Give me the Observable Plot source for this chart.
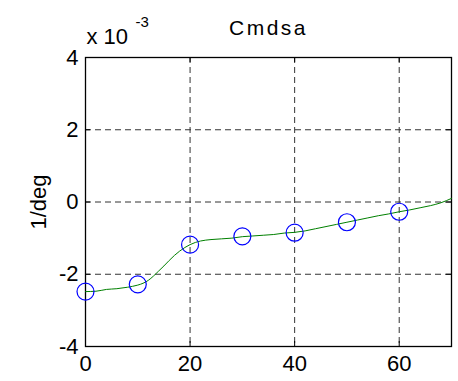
<!DOCTYPE html>
<html>
<head>
<meta charset="utf-8">
<script src="https://cdn.jsdelivr.net/npm/d3@7"></script>
<script src="https://cdn.jsdelivr.net/npm/@observablehq/plot@0.6"></script>
<style>
  html, body { margin: 0; padding: 0; background: #fff; }
  svg { display: block; }
</style>
</head>
<body>
<div id="chart"></div>
<script>
// Title and labels
const titleText = "Cmdsa";
const yLabel = "1/deg";
const scaleText = "x 10";
const scaleExp = "-3";

// Tick values
const xTicks = [0, 20, 40, 60];
const yTicks = [-4, -2, 0, 2, 4];

// Marker series (circles), values in units of 1e-3
const markerX = [0, 10, 20, 30, 40, 50, 60];
const markerY = [-2.48, -2.28, -1.18, -0.95, -0.85, -0.56, -0.27];

// Line series (green), values in units of 1e-3
const lineX = [0, 2, 4, 6, 8, 10, 11, 12, 13, 14, 15, 16, 17, 18, 19, 20, 21, 22, 24, 26, 28, 30, 32, 34, 36, 38, 40, 42, 44, 46, 48, 50, 52, 54, 56, 58, 60, 62, 64, 66, 68, 70];
const lineY = [-2.48, -2.47, -2.42, -2.40, -2.36, -2.30, -2.25, -2.17, -2.05, -1.91, -1.77, -1.62, -1.48, -1.36, -1.26, -1.18, -1.12, -1.08, -1.04, -1.02, -1.00, -0.96, -0.94, -0.92, -0.90, -0.86, -0.84, -0.80, -0.74, -0.68, -0.62, -0.56, -0.50, -0.44, -0.38, -0.33, -0.27, -0.22, -0.16, -0.10, -0.02, 0.10];

const markers = markerX.map((x, i) => ({x, y: markerY[i]}));
const line = lineX.map((x, i) => ({x, y: lineY[i]}));

const font = "Liberation Sans, Arial, sans-serif";
const gridStyle = {stroke: "#333", strokeOpacity: 1, strokeWidth: 1, strokeDasharray: "6,4"};
const fmt = d => String(d);

const chart = Plot.plot({
  width: 458,
  height: 381,
  marginLeft: 85,
  marginRight: 7,
  marginTop: 57,
  marginBottom: 35,
  style: {fontFamily: font, fontSize: "22px", background: "#fff", color: "#000"},
  x: {domain: [0, 70]},
  y: {domain: [-4, 4]},
  marks: [
    // grid
    Plot.ruleX(xTicks.filter(d => d > 0), {x: d => d, ...gridStyle}),
    Plot.ruleY(yTicks.filter(d => d > -4 && d < 4), {y: d => d, ...gridStyle}),
    // inner ticks
    Plot.tickX(xTicks, {x: d => d, stroke: "#000", insetTop: 284}),
    Plot.tickX(xTicks, {x: d => d, stroke: "#000", insetBottom: 284}),
    Plot.tickY(yTicks, {y: d => d, stroke: "#000", insetRight: 361}),
    Plot.tickY(yTicks, {y: d => d, stroke: "#000", insetLeft: 361}),
    Plot.frame({stroke: "#000", strokeWidth: 1.3}),
    Plot.axisX(xTicks, {tickSize: 0, tickPadding: 9, fontSize: 22, tickFormat: fmt, label: null}),
    Plot.axisY(yTicks, {tickSize: 0, tickPadding: 7, fontSize: 22, tickFormat: fmt, label: yLabel, labelAnchor: "center", labelArrow: "none", labelOffset: 55}),
    // data
    Plot.line(line, {x: "x", y: "y", stroke: "#008000", strokeWidth: 1, curve: "monotone-x"}),
    Plot.dot(markers, {x: "x", y: "y", r: 8.5, stroke: "#0000ff", strokeWidth: 1.2, fill: "none"}),
    // title and exponent
    Plot.text([titleText], {text: d => d, frameAnchor: "top", dy: -37, fontSize: 21, fill: "#000", className: "ttl"}),
    Plot.text([scaleText], {text: d => d, frameAnchor: "top-left", textAnchor: "start", dx: 1, dy: -29, fontSize: 22, fill: "#000"}),
    Plot.text([scaleExp], {text: d => d, frameAnchor: "top-left", textAnchor: "start", dx: 50, dy: -41, fontSize: 15, fill: "#000"})
  ]
});
d3.select(chart).selectAll("g.ttl text").attr("letter-spacing", "2.5px");
document.getElementById("chart").appendChild(chart);
</script>
</body>
</html>
